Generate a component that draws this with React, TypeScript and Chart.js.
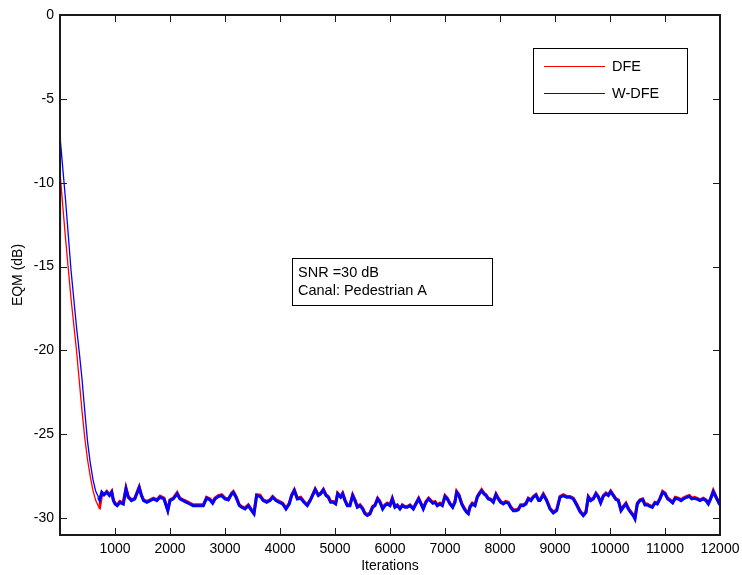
import React, { useEffect, useRef } from "react";
import { Chart, registerables } from "chart.js";

Chart.register(...registerables);

const iterations = [
  0, 5, 10, 100, 200, 300, 350, 400, 450, 500,
  550, 600, 650, 700, 720, 760, 800, 850, 900, 940,
  970, 1000, 1040, 1090, 1150, 1200, 1240, 1300, 1360, 1440,
  1480, 1520, 1580, 1640, 1700, 1760, 1820, 1890, 1960, 2000,
  2060, 2130, 2180, 2240, 2300, 2360, 2420, 2480, 2545, 2606,
  2666, 2727, 2775, 2818, 2878, 2939, 3000, 3060, 3121, 3151,
  3200, 3260, 3303, 3363, 3424, 3484, 3527, 3575, 3636, 3696,
  3757, 3818, 3866, 3927, 3987, 4048, 4109, 4169, 4212, 4260,
  4315, 4375, 4436, 4496, 4550, 4606, 4640, 4697, 4739, 4788,
  4836, 4878, 4921, 4969, 5012, 5048, 5103, 5139, 5181, 5224,
  5272, 5321, 5363, 5406, 5454, 5503, 5545, 5587, 5636, 5684,
  5727, 5775, 5818, 5866, 5908, 5951, 6000, 6042, 6090, 6133,
  6181, 6224, 6272, 6315, 6363, 6424, 6472, 6521, 6563, 6605,
  6654, 6702, 6778, 6818, 6860, 6909, 6951, 7000, 7042, 7090,
  7139, 7181, 7212, 7254, 7303, 7351, 7393, 7424, 7454, 7496,
  7545, 7587, 7624, 7666, 7709, 7745, 7787, 7830, 7878, 7927,
  7969, 8012, 8060, 8103, 8151, 8193, 8242, 8290, 8333, 8375,
  8424, 8472, 8515, 8563, 8605, 8654, 8702, 8727, 8788, 8848,
  8909, 8969, 9030, 9091, 9151, 9212, 9272, 9333, 9394, 9454,
  9515, 9563, 9606, 9648, 9697, 9745, 9788, 9830, 9879, 9927,
  9969, 10012, 10060, 10109, 10151, 10200, 10242, 10290, 10333, 10375,
  10424, 10454, 10497, 10545, 10594, 10636, 10679, 10727, 10769, 10818,
  10860, 10909, 10957, 11000, 11048, 11091, 11139, 11187, 11242, 11291,
  11333, 11394, 11442, 11485, 11533, 11575, 11636, 11697, 11745, 11788,
  11830, 11878, 11927, 11988, 12000,
];

const dfe = [
  -13.0, -10.4, -9.7, -13.3, -16.9, -20.0, -21.8, -23.6, -25.2, -26.5,
  -27.5, -28.35, -28.95, -29.3, -29.35, -28.55, -28.6, -28.4, -28.6, -28.4,
  -28.9, -29.1, -29.2, -29.0, -29.1, -28.2, -28.7, -28.9, -28.8, -28.12,
  -28.6, -28.9, -29.0, -28.9, -28.8, -28.9, -28.68, -28.8, -29.5, -28.9,
  -28.8, -28.48, -28.8, -28.9, -29.0, -29.1, -29.2, -29.2, -29.2, -29.2,
  -28.75, -28.85, -29.05, -28.8, -28.65, -28.6, -28.8, -28.85, -28.5, -28.4,
  -28.7, -29.2, -29.3, -29.4, -29.2, -29.5, -29.68, -28.6, -28.63, -28.9,
  -29.0, -28.9, -28.7, -28.9, -29.0, -29.1, -29.4, -29.1, -28.6, -28.3,
  -28.8, -28.75, -29.0, -29.2, -28.9, -28.5, -28.25, -28.6, -28.5, -28.27,
  -28.6, -28.7, -29.0, -29.0, -29.1, -28.5, -28.7, -28.5, -28.9, -29.2,
  -29.2, -28.6, -28.9, -29.3, -29.2, -29.4, -29.68, -29.78, -29.68, -29.3,
  -29.2, -28.8, -29.0, -29.4, -29.2, -29.1, -29.2, -28.8, -29.3, -29.2,
  -29.4, -29.2, -29.3, -29.3, -29.2, -29.4, -29.1, -28.8, -29.1, -29.4,
  -29.0, -28.8, -29.05, -29.0, -29.2, -29.1, -29.2, -28.65, -28.8, -29.1,
  -29.3, -29.0, -28.4, -28.6, -29.1, -29.4, -29.6, -29.68, -29.3, -29.1,
  -29.2, -28.7, -28.5, -28.3, -28.5, -28.6, -28.8, -28.85, -29.0, -28.55,
  -28.8, -29.0, -29.1, -29.0, -29.05, -29.3, -29.5, -29.5, -29.45, -29.2,
  -29.2, -29.1, -28.8, -28.9, -28.7, -28.57, -28.9, -28.9, -28.55, -28.9,
  -29.4, -29.63, -29.5, -28.7, -28.6, -28.7, -28.7, -28.8, -29.15, -29.55,
  -29.8, -29.6, -28.7, -28.9, -28.8, -28.5, -28.7, -29.05, -28.65, -28.5,
  -28.6, -28.37, -28.6, -28.85, -28.9, -29.5, -29.3, -29.1, -29.4, -29.6,
  -29.8, -29.98, -29.1, -28.9, -28.85, -29.15, -29.15, -29.25, -29.3, -29.05,
  -29.1, -28.8, -28.4, -28.5, -28.8, -28.9, -29.05, -28.75, -28.8, -28.9,
  -28.8, -28.7, -28.65, -28.8, -28.75, -28.8, -28.9, -28.8, -28.9, -29.1,
  -28.8, -28.35, -28.7, -29.1, -29.15,
];

const wdfe = [
  -19.6, -7.3, -7.5, -11.0, -15.2, -18.6, -20.1, -21.7, -23.6, -25.4,
  -26.7, -27.7, -28.4, -28.75, -28.9, -28.45, -28.6, -28.45, -28.65, -28.45,
  -28.95, -29.15, -29.25, -29.05, -29.15, -28.26, -28.75, -28.95, -28.85, -28.18,
  -28.65, -28.95, -29.05, -28.95, -28.85, -28.95, -28.75, -28.85, -29.55, -28.95,
  -28.85, -28.55, -28.85, -28.95, -29.05, -29.15, -29.25, -29.25, -29.25, -29.25,
  -28.8, -28.91, -29.11, -28.85, -28.71, -28.65, -28.85, -28.91, -28.55, -28.46,
  -28.75, -29.25, -29.35, -29.45, -29.25, -29.55, -29.74, -28.65, -28.69, -28.95,
  -29.05, -28.95, -28.75, -28.95, -29.05, -29.15, -29.45, -29.15, -28.65, -28.36,
  -28.85, -28.81, -29.05, -29.25, -28.95, -28.55, -28.3, -28.65, -28.55, -28.32,
  -28.65, -28.75, -29.05, -29.05, -29.15, -28.55, -28.75, -28.55, -28.95, -29.25,
  -29.25, -28.65, -28.95, -29.35, -29.25, -29.45, -29.74, -29.84, -29.74, -29.35,
  -29.25, -28.85, -29.05, -29.45, -29.25, -29.15, -29.25, -28.85, -29.35, -29.25,
  -29.45, -29.25, -29.35, -29.35, -29.25, -29.45, -29.15, -28.85, -29.15, -29.45,
  -29.05, -28.85, -29.11, -29.05, -29.25, -29.15, -29.25, -28.71, -28.85, -29.15,
  -29.35, -29.05, -28.46, -28.65, -29.15, -29.45, -29.65, -29.74, -29.35, -29.15,
  -29.25, -28.75, -28.55, -28.36, -28.55, -28.65, -28.85, -28.9, -29.05, -28.6,
  -28.85, -29.05, -29.15, -29.05, -29.1, -29.35, -29.55, -29.55, -29.5, -29.25,
  -29.25, -29.15, -28.85, -28.95, -28.75, -28.62, -28.95, -28.95, -28.61, -28.95,
  -29.45, -29.69, -29.55, -28.75, -28.65, -28.75, -28.75, -28.85, -29.21, -29.61,
  -29.85, -29.65, -28.75, -28.95, -28.85, -28.55, -28.75, -29.09, -28.69, -28.55,
  -28.65, -28.42, -28.65, -28.89, -28.95, -29.55, -29.35, -29.15, -29.45, -29.65,
  -29.85, -30.04, -29.15, -28.95, -28.89, -29.21, -29.21, -29.29, -29.35, -29.09,
  -29.15, -28.85, -28.46, -28.55, -28.85, -28.95, -29.09, -28.81, -28.85, -28.95,
  -28.85, -28.75, -28.69, -28.85, -28.81, -28.85, -28.95, -28.85, -28.95, -29.15,
  -28.85, -28.42, -28.75, -29.15, -29.2,
];

const xTicks = [1000, 2000, 3000, 4000, 5000, 6000, 7000, 8000, 9000, 10000, 11000, 12000];
const yTicks = [0, -5, -10, -15, -20, -25, -30];
const seriesNames = ["DFE", "W-DFE"];
const seriesColors = ["#ff0000", "#0000ff"];
const annotationLines = ["SNR =30 dB", "Canal: Pedestrian A"];

const FONT = "'Liberation Sans', Arial, Helvetica, sans-serif";

const decorPlugin = {
  id: "decor",
  afterDatasetsDraw(chart: any) {
    const { ctx, chartArea } = chart;
    const { left, right, top, bottom } = chartArea;
    const xs = chart.scales.x;
    const ys = chart.scales.y;
    ctx.save();
    // frame
    ctx.strokeStyle = "#1a1a1a";
    ctx.lineWidth = 2;
    ctx.strokeRect(left, top, right - left, bottom - top);
    // inward ticks on all sides
    ctx.lineWidth = 1;
    const tl = 7;
    ctx.beginPath();
    xTicks.forEach((v) => {
      const px = Math.round(xs.getPixelForValue(v)) + 0.5;
      ctx.moveTo(px, bottom);
      ctx.lineTo(px, bottom - tl);
      ctx.moveTo(px, top);
      ctx.lineTo(px, top + tl);
    });
    yTicks.forEach((v) => {
      const py = Math.round(ys.getPixelForValue(v)) + 0.5;
      ctx.moveTo(left, py);
      ctx.lineTo(left + tl, py);
      ctx.moveTo(right, py);
      ctx.lineTo(right - tl, py);
    });
    ctx.stroke();

    // axis titles
    ctx.fillStyle = "#000";
    ctx.font = `14px ${FONT}`;
    ctx.textAlign = "center";
    ctx.textBaseline = "middle";
    ctx.fillText("Iterations", (left + right) / 2, 566);
    ctx.save();
    ctx.translate(18, (top + bottom) / 2);
    ctx.rotate(-Math.PI / 2);
    ctx.fillText("EQM (dB)", 0, 0);
    ctx.restore();

    // legend box
    ctx.fillStyle = "#fff";
    ctx.fillRect(533, 48, 154, 65);
    ctx.strokeStyle = "#000";
    ctx.lineWidth = 1;
    ctx.strokeRect(533.5, 48.5, 154, 65);
    const ly = [66, 93];
    seriesNames.forEach((name, i) => {
      ctx.strokeStyle = seriesColors[i];
      ctx.lineWidth = 1;
      ctx.beginPath();
      ctx.moveTo(544, ly[i] + 0.5);
      ctx.lineTo(605, ly[i] + 0.5);
      ctx.stroke();
      ctx.fillStyle = "#000";
      ctx.font = `14.5px ${FONT}`;
      ctx.textAlign = "left";
      ctx.textBaseline = "middle";
      ctx.fillText(name, 612, ly[i] + 1);
    });

    // annotation box
    ctx.fillStyle = "#fff";
    ctx.fillRect(292, 258, 200, 47);
    ctx.strokeStyle = "#000";
    ctx.strokeRect(292.5, 258.5, 200, 47);
    ctx.fillStyle = "#000";
    ctx.font = `14.5px ${FONT}`;
    ctx.textAlign = "left";
    ctx.textBaseline = "middle";
    annotationLines.forEach((t, i) => {
      ctx.fillText(t, 298, 273 + i * 18);
    });
    ctx.restore();
  },
};

export default function App() {
  const ref = useRef<HTMLCanvasElement | null>(null);
  useEffect(() => {
    document.body.style.margin = "0";
    const canvas = ref.current;
    if (!canvas) return;
    const mk = (vals: number[]) => iterations.map((x, i) => ({ x, y: vals[i] }));
    const seg = { borderWidth: (c: any) => (c.p0.parsed.x >= 700 ? 3 : 1.3) };
    const chart = new Chart(canvas, {
      type: "line",
      data: {
        datasets: [
          {
            label: seriesNames[0],
            data: mk(dfe),
            borderColor: seriesColors[0],
            borderWidth: 1.3,
            pointRadius: 0,
            tension: 0,
            order: 1,
            segment: seg,
          },
          {
            label: seriesNames[1],
            data: mk(wdfe),
            borderColor: seriesColors[1],
            borderWidth: 1.3,
            pointRadius: 0,
            tension: 0,
            order: 0,
            segment: seg,
          },
        ],
      },
      options: {
        animation: false,
        responsive: false,
        devicePixelRatio: 1,
        layout: { padding: { left: 0, top: 15, right: 22, bottom: 0 } },
        plugins: { legend: { display: false }, tooltip: { enabled: false } },
        scales: {
          x: {
            type: "linear",
            min: 0,
            max: 12000,
            grid: { display: false, drawTicks: false },
            border: { display: false },
            afterFit: (s: any) => {
              s.height = 40;
              s.paddingLeft = 0;
              s.paddingRight = 0;
            },
            afterBuildTicks: (s: any) => {
              s.ticks = xTicks.map((v) => ({ value: v }));
            },
            ticks: {
              padding: 6,
              maxRotation: 0,
              autoSkip: false,
              color: "#000",
              font: { family: FONT, size: 14 },
              callback: (v: any) => String(v),
            },
          },
          y: {
            type: "linear",
            min: -31,
            max: 0,
            grid: { display: false, drawTicks: false },
            border: { display: false },
            afterFit: (s: any) => {
              s.width = 60;
              s.paddingTop = 0;
              s.paddingBottom = 0;
            },
            afterBuildTicks: (s: any) => {
              s.ticks = yTicks.map((v) => ({ value: v }));
            },
            ticks: {
              padding: 6,
              autoSkip: false,
              color: "#000",
              font: { family: FONT, size: 14 },
              callback: (v: any) => String(v),
            },
          },
        },
      },
      plugins: [decorPlugin],
    });
    return () => chart.destroy();
  }, []);
  return (
    <div style={{ width: 742, height: 575, background: "#fff" }}>
      <canvas ref={ref} width={742} height={575} style={{ display: "block" }} />
    </div>
  );
}
